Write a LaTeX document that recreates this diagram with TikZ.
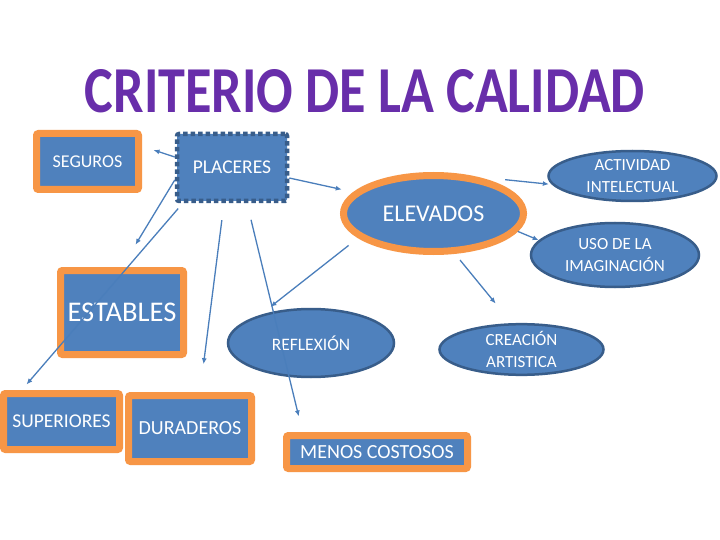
\documentclass[tikz,border=0pt]{standalone}
\usepackage{fontspec}
\usepackage{graphicx}
\setmainfont{Carlito}
\usetikzlibrary{shapes.geometric,arrows.meta}
\definecolor{cajazul}{RGB}{79,129,189}
\definecolor{bordeazul}{RGB}{56,93,138}
\definecolor{naranja}{RGB}{247,150,70}
\definecolor{morado}{RGB}{104,46,170}
\definecolor{linea}{RGB}{74,126,187}
\newcommand{\tam}[1]{\fontsize{#1}{#1}\selectfont}
\begin{document}
\begin{tikzpicture}[x=1pt,y=-1pt,
		caja/.style={rectangle,rounded corners=2pt,draw=naranja,line width=7pt,fill=cajazul,text=white,inner sep=0pt},
		punteada/.style={rectangle,rounded corners=2pt,draw=bordeazul,line width=4.5pt,dash pattern=on 4.5pt off 3pt,fill=cajazul,text=white,inner sep=0pt},
		ovalo/.style={ellipse,draw=bordeazul,line width=2.5pt,fill=cajazul,text=white,inner sep=0pt,align=center,font=\fontsize{17}{21.5}\selectfont},
		flecha/.style={draw=linea,line width=1.3pt,-{Latex[length=6pt,width=5pt]}}]
			\useasboundingbox[fill=white] (0,0) rectangle (720,540);
			
			\node[inner sep=0pt,text=morado] (titulo) at (365,91.5) {\resizebox{560pt}{43pt}{\bfseries CRITERIO DE LA CALIDAD}};
			
			\node[caja,minimum width=102pt,minimum height=56pt,font=\tam{18}] (seguros) at (87.5,161.5) {SEGUROS};
			\node[punteada,minimum width=110pt,minimum height=67pt,font=\tam{19.5}] (placeres) at (232,167.5) {PLACERES};
			\node[ovalo,draw=naranja,line width=7pt,minimum width=180pt,minimum height=76pt,font=\tam{24}] (elevados) at (433.5,213.5) {ELEVADOS};
			\node[ovalo,minimum width=168pt,minimum height=50pt] (actividad) at (632.5,176) {ACTIVIDAD\\INTELECTUAL};
			\node[ovalo,minimum width=168pt,minimum height=64pt] (uso) at (615,255) {USO DE LA\\IMAGINACIÓN};
			\node[caja,minimum width=123pt,minimum height=84pt,font=\tam{28.5}] (estables) at (122,312.5) {ESTABLES};
			\node[caja,minimum width=116pt,minimum height=56pt,font=\tam{19.5}] (superiores) at (61.5,421.5) {SUPERIORES};
			\node[caja,minimum width=123pt,minimum height=66pt,font=\tam{20}] (duraderos) at (190,428.5) {DURADEROS};
			\node[ovalo,minimum width=166pt,minimum height=68pt,font=\tam{17.5}] (reflexion) at (311,343) {REFLEXIÓN};
			\node[ovalo,minimum width=164pt,minimum height=43pt] (creacion) at (521.5,349.5) {CREACIÓN\\ARTISTICA};
			\node[caja,minimum width=181pt,minimum height=33pt,font=\tam{20}] (menos) at (377,452) {MENOS COSTOSOS};
			
			\draw[flecha] ([yshift=10.5pt]placeres.west) -- ([xshift=11.5pt,yshift=11.5pt]seguros.east);
			\draw[flecha,shorten >=12pt] ([yshift=-10.5pt]placeres.east) -- (elevados.165);
			\draw[flecha,shorten >=26pt] ([yshift=-12.5pt]placeres.west) -- (estables.north);
			\draw[flecha,shorten <=7pt] ([xshift=8pt]placeres.south west) -- ([xshift=26.5pt,yshift=5.5pt]superiores.north west);
			\draw[flecha,shorten <=17pt,shorten >=28pt] ([xshift=-8pt]placeres.south) -- ([xshift=10pt]duraderos.north);
			\draw[flecha,shorten <=17pt,shorten >=16pt] ([xshift=15pt]placeres.south) -- ([xshift=19.5pt]menos.north west);
			\draw[flecha,shorten <=12pt,shorten >=13pt] (elevados.198) -- (reflexion.151);
			\draw[flecha,shorten <=8pt,shorten >=25pt] (elevados.-62) -- ([xshift=-10pt]creacion.north);
			\draw[flecha,shorten <=28pt,shorten >=3pt] (elevados.40) -- (actividad.186);
			\draw[flecha] (elevados.-12) -- (uso.169);
		\end{tikzpicture}
\end{document}
